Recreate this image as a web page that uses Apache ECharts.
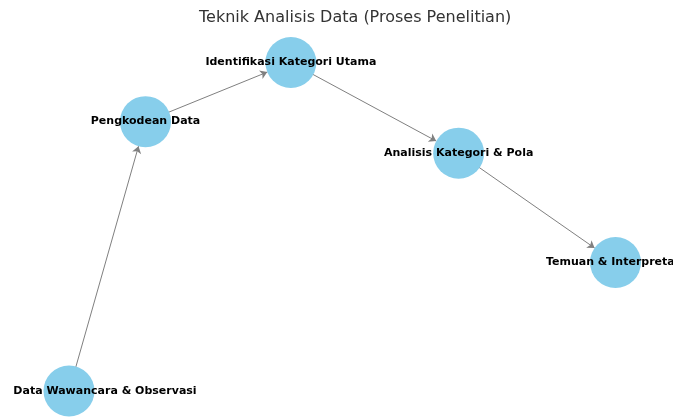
<!DOCTYPE html>
<html>
<head>
<meta charset="utf-8">
<script src="https://cdn.jsdelivr.net/npm/echarts@6/dist/echarts.min.js"></script>
<style>html,body{margin:0;padding:0;background:#fff}#c{width:673px;height:417px}</style>
</head>
<body>
<div id="c"></div>
<script>
const titleText = 'Teknik Analisis Data (Proses Penelitian)';
const nodeNames = ['Data Wawancara & Observasi', 'Pengkodean Data', 'Identifikasi Kategori Utama', 'Analisis Kategori & Pola', 'Temuan & Interpretasi'];
const nodeX = [0, 0.140, 0.406, 0.713, 1.0];
const nodeY = [0, 0.820, 1.0, 0.724, 0.391];
const edgeSource = [0, 1, 2, 3];
const edgeTarget = [1, 2, 3, 4];

const FONT = "'DejaVu Sans', sans-serif";
const chart = echarts.init(document.getElementById('c'), null, {renderer: 'canvas'});
chart.setOption({
  animation: false,
  backgroundColor: '#fff',
  title: {
    text: titleText, left: 194, top: 5,
    textStyle: {fontFamily: FONT, fontSize: 16, fontWeight: 'normal', color: '#333'}
  },
  grid: {left: 69, right: 57.5, top: 62.5, bottom: 26, containLabel: false},
  xAxis: {type: 'value', min: 0, max: 1, show: false},
  yAxis: {type: 'value', min: 0, max: 1, show: false},
  series: [{
    type: 'graph',
    coordinateSystem: 'cartesian2d',
    symbol: 'circle',
    symbolSize: 51,
    itemStyle: {color: '#87CEEB'},
    label: {
      show: true, position: 'inside',
      fontFamily: FONT, fontSize: 11, fontWeight: 'bold', color: '#000'
    },
    edgeSymbol: ['none', 'arrow'],
    edgeSymbolSize: [0, 7],
    lineStyle: {color: '#808080', width: 1, opacity: 1, curveness: 0},
    data: nodeNames.map((n, i) => {
      const item = {name: n, value: [nodeX[i], nodeY[i]]};
      if (i === 0) item.label = {offset: [36, 0]};
      return item;
    }),
    links: edgeSource.map((s, i) => ({source: s, target: edgeTarget[i]})),
    emphasis: {disabled: true}
  }]
});
</script>
</body>
</html>
